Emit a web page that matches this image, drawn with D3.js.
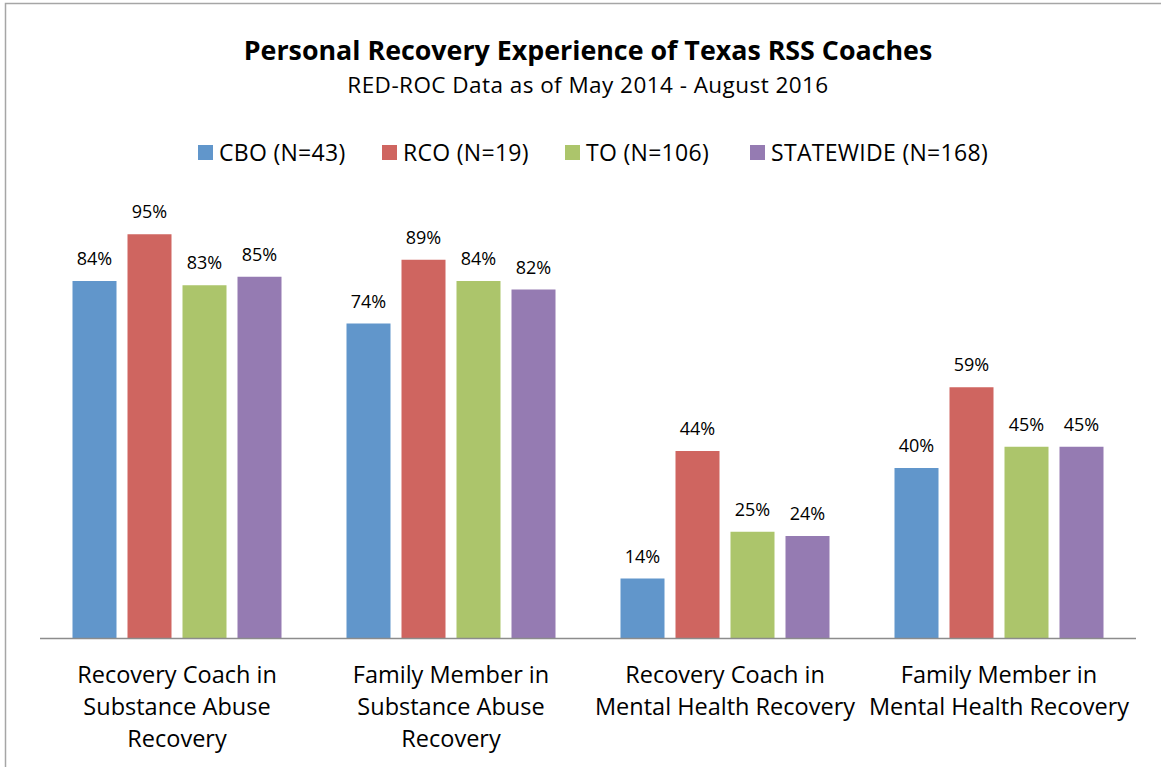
<!DOCTYPE html>
<html>
<head>
<meta charset="utf-8">
<script src="https://cdn.jsdelivr.net/npm/d3@7"></script>
<style>
  body { margin: 0; background: #fff; }
  svg text { font-family: "Open Sans", Lato, sans-serif; fill: #000; }
</style>
</head>
<body>
<svg width="1161" height="767"></svg>
<script>
// **** Data ****
var categories = [
    ["Recovery Coach in", "Substance Abuse", "Recovery"],
    ["Family Member in", "Substance Abuse", "Recovery"],
    ["Recovery Coach in", "Mental Health Recovery"],
    ["Family Member in", "Mental Health Recovery"]
];
var seriesNames = ["CBO (N=43)", "RCO (N=19)", "TO (N=106)", "STATEWIDE (N=168)"];
var cbo = [0.84, 0.74, 0.14, 0.40];
var rco = [0.95, 0.89, 0.44, 0.59];
var to = [0.83, 0.84, 0.25, 0.45];
var statewide = [0.85, 0.82, 0.24, 0.45];
var colors = ["#6196cb", "#cf6560", "#acc56b", "#957bb2"];

var allSeries = [cbo, rco, to, statewide];

var svg = d3.select("svg");

// chart frame
svg.append("rect")
    .attr("x", 5.5).attr("y", 3.5)
    .attr("width", 1200).attr("height", 800)
    .attr("fill", "none")
    .attr("stroke", "#a6a6a6")
    .attr("stroke-width", 1.5);

// **** Scales ****
var x0 = d3.scaleBand()
    .domain(d3.range(categories.length))
    .range([40, 1136])
    .paddingInner(0).paddingOuter(0);

var x1 = d3.scaleBand()
    .domain(d3.range(seriesNames.length))
    .range([32.5, x0.bandwidth() - 32.5])
    .paddingInner(0.2);

var y = d3.scaleLinear().domain([0, 1]).range([638, 213]);

// **** Titles ****
svg.append("text")
    .attr("x", 588).attr("y", 60)
    .attr("text-anchor", "middle")
    .style("font-size", "26.8px")
    .style("font-weight", "bold")
    .text("Personal Recovery Experience of Texas RSS Coaches");

svg.append("text")
    .attr("x", 588).attr("y", 93)
    .attr("text-anchor", "middle")
    .style("font-size", "22.5px")
    .style("letter-spacing", "0.45px")
    .text("RED-ROC Data as of May 2014 - August 2016");

// **** Legend ****
var legendX = [198, 382, 565, 750];
var legend = svg.selectAll(".legend")
    .data(seriesNames)
    .enter()
    .append("g")
    .attr("class", "legend")
    .attr("transform", (d, i) => `translate(${legendX[i]},145)`);

legend.append("rect")
    .attr("width", 15).attr("height", 15)
    .attr("fill", (d, i) => colors[i]);

legend.append("text")
    .attr("x", 21).attr("y", 16)
    .style("font-size", "23px")
    .style("letter-spacing", "0.3px")
    .text(d => d);

// **** Bars ****
var group = svg.selectAll(".group")
    .data(categories)
    .enter()
    .append("g")
    .attr("class", "group")
    .attr("transform", (d, i) => `translate(${x0(i)},0)`);

group.selectAll("rect")
    .data((d, i) => allSeries.map((s, j) => ({ v: s[i], j: j })))
    .enter()
    .append("rect")
    .attr("x", d => x1(d.j))
    .attr("y", d => y(d.v))
    .attr("width", x1.bandwidth())
    .attr("height", d => y(0) - y(d.v))
    .attr("fill", d => colors[d.j]);

group.selectAll(".val")
    .data((d, i) => allSeries.map((s, j) => ({ v: s[i], j: j })))
    .enter()
    .append("text")
    .attr("class", "val")
    .attr("x", d => x1(d.j) + x1.bandwidth() / 2)
    .attr("y", d => y(d.v) - 16)
    .attr("text-anchor", "middle")
    .style("font-size", "18px")
    .text(d => d3.format(".0%")(d.v));

// **** Axis ****
svg.append("line")
    .attr("x1", 40).attr("x2", 1136)
    .attr("y1", 638.5).attr("y2", 638.5)
    .attr("stroke", "#8c8c8c")
    .attr("stroke-width", 1.5);

group.selectAll(".cat")
    .data(d => d)
    .enter()
    .append("text")
    .attr("class", "cat")
    .attr("x", x0.bandwidth() / 2)
    .attr("y", (d, i) => 683 + i * 32)
    .attr("text-anchor", "middle")
    .style("font-size", "23.5px")
    .text(d => d);
</script>
</body>
</html>
